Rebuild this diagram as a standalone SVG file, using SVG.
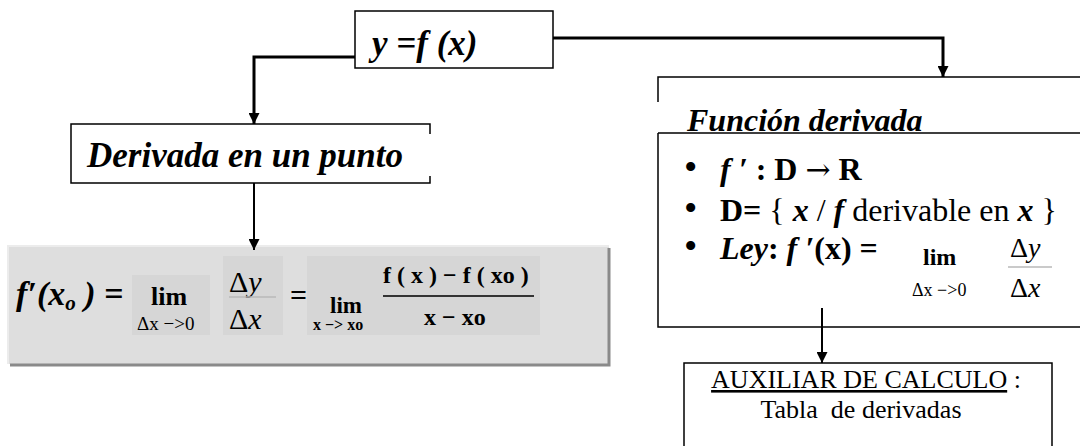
<svg xmlns="http://www.w3.org/2000/svg" width="1080" height="446" viewBox="0 0 1080 446">
<defs>
<style>
text{font-family:"Liberation Serif","Times New Roman",serif;fill:#000}
.bi{font-weight:bold;font-style:italic}
.b{font-weight:bold}
.it{font-style:italic}
.edge{stroke:#000;stroke-width:1.5;fill:none}
.c3{stroke:#000;stroke-width:3;fill:none}
.c2{stroke:#000;stroke-width:2;fill:none}
.fl{stroke:#b8b8b8;stroke-width:1.5}
.sub{fill:#d6d6d6}
.bul{font-size:38px}
.arr{font-family:"DejaVu Serif",serif;font-weight:normal}
</style>
<marker id="ah" viewBox="0 0 10 10" refX="10" refY="5" markerWidth="11" markerHeight="11" markerUnits="userSpaceOnUse" orient="auto"><path d="M0,0L10,5L0,10z"/></marker>
</defs>
<rect width="1080" height="446" fill="#fff"/>

<g id="node-y">
<rect x="355" y="11" width="198" height="57" fill="#fff" stroke="#000" stroke-width="1.5"/>
<text class="bi" x="372" y="55" font-size="35">y =f (x)</text>
</g>

<g id="node-derivada-punto">
<rect x="71" y="124" width="359" height="59" fill="#fff"/>
<path class="edge" d="M430,134V124H71V183H430V176"/>
<text class="bi" x="87" y="167" font-size="35">Derivada en un punto</text>
</g>

<g id="node-formula">
<rect x="8" y="246" width="601" height="118" fill="#dedede"/>
<path d="M8,364V246H609" stroke="#ececec" stroke-width="2" fill="none"/>
<path d="M609,248V365H10" stroke="#8a8a8a" stroke-width="3" fill="none"/>
<rect class="sub" x="132" y="275" width="78" height="60"/>
<rect class="sub" x="223" y="256" width="60" height="79"/>
<rect class="sub" x="307" y="256" width="233" height="79"/>
<text class="bi" font-size="34" y="305"><tspan x="16">f′(x</tspan><tspan font-size="21" dy="5">o</tspan><tspan dy="-5"> ) =</tspan></text>
<text class="b" x="151" y="305" font-size="26">lim</text>
<text x="137" y="330" font-size="19">Δx −&gt;0</text>
<text x="229" y="292" font-size="30">Δ<tspan class="it">y</tspan></text>
<line class="fl" x1="229" y1="297" x2="276" y2="297"/>
<text x="229" y="329" font-size="30">Δ<tspan class="it">x</tspan></text>
<text class="b" x="290" y="305" font-size="30">=</text>
<text class="b" x="330" y="313" font-size="23">lim</text>
<text class="b" x="313" y="330" font-size="16">x −&gt; xo</text>
<text class="b" x="383" y="283" font-size="24">f ( x ) − f ( xo )</text>
<line x1="383" y1="296" x2="534" y2="296" stroke="#333" stroke-width="2"/>
<text class="b" x="424" y="325" font-size="24">x − xo</text>
</g>

<g id="node-funcion">
<rect x="658" y="77" width="430" height="250" fill="#fff"/>
<path class="edge" d="M1080,77H658V102M658,133V327H1080M658,133H1080"/>
<text class="bi" x="687" y="131" font-size="32">Función derivada</text>
<text y="180" font-size="32"><tspan class="bul" x="684">•</tspan><tspan class="bi" x="720">f ′</tspan><tspan class="b"> : D </tspan><tspan class="arr" font-size="30">→</tspan><tspan class="b"> R</tspan></text>
<text y="221" font-size="32"><tspan class="bul" x="684">•</tspan><tspan class="b" x="720">D=</tspan> { <tspan class="bi">x</tspan> / <tspan class="bi">f</tspan> derivable en <tspan class="bi">x</tspan> }</text>
<text y="259" font-size="32"><tspan class="bul" x="684">•</tspan><tspan class="bi" x="720">Ley</tspan><tspan class="b">:  </tspan><tspan class="bi">f ′</tspan><tspan class="b">(x) =</tspan></text>
<text class="b" x="923" y="265" font-size="24">lim</text>
<text x="912" y="296" font-size="18">Δx −&gt;0</text>
<text x="1010" y="257" font-size="28">Δ<tspan class="it">y</tspan></text>
<line class="fl" x1="1008" y1="267" x2="1052" y2="267"/>
<text x="1010" y="297" font-size="28">Δ<tspan class="it">x</tspan></text>
</g>

<g id="node-aux">
<path d="M684,446V363H1052V446" fill="#fff" stroke="#000" stroke-width="1.5"/>
<text x="866" y="388" font-size="26" text-anchor="middle"><tspan text-decoration="underline">AUXILIAR DE CALCULO</tspan> :</text>
<text x="861" y="418" font-size="26" text-anchor="middle">Tabla&#160; de derivadas</text>
</g>

<g id="connectors">
<path class="c3" d="M355,57H254V124" marker-end="url(#ah)"/>
<path class="c3" d="M553,38H943V77" marker-end="url(#ah)"/>
<path class="c2" d="M254,183V250" marker-end="url(#ah)"/>
<path class="c2" d="M822,308V363" marker-end="url(#ah)"/>
</g>
</svg>
